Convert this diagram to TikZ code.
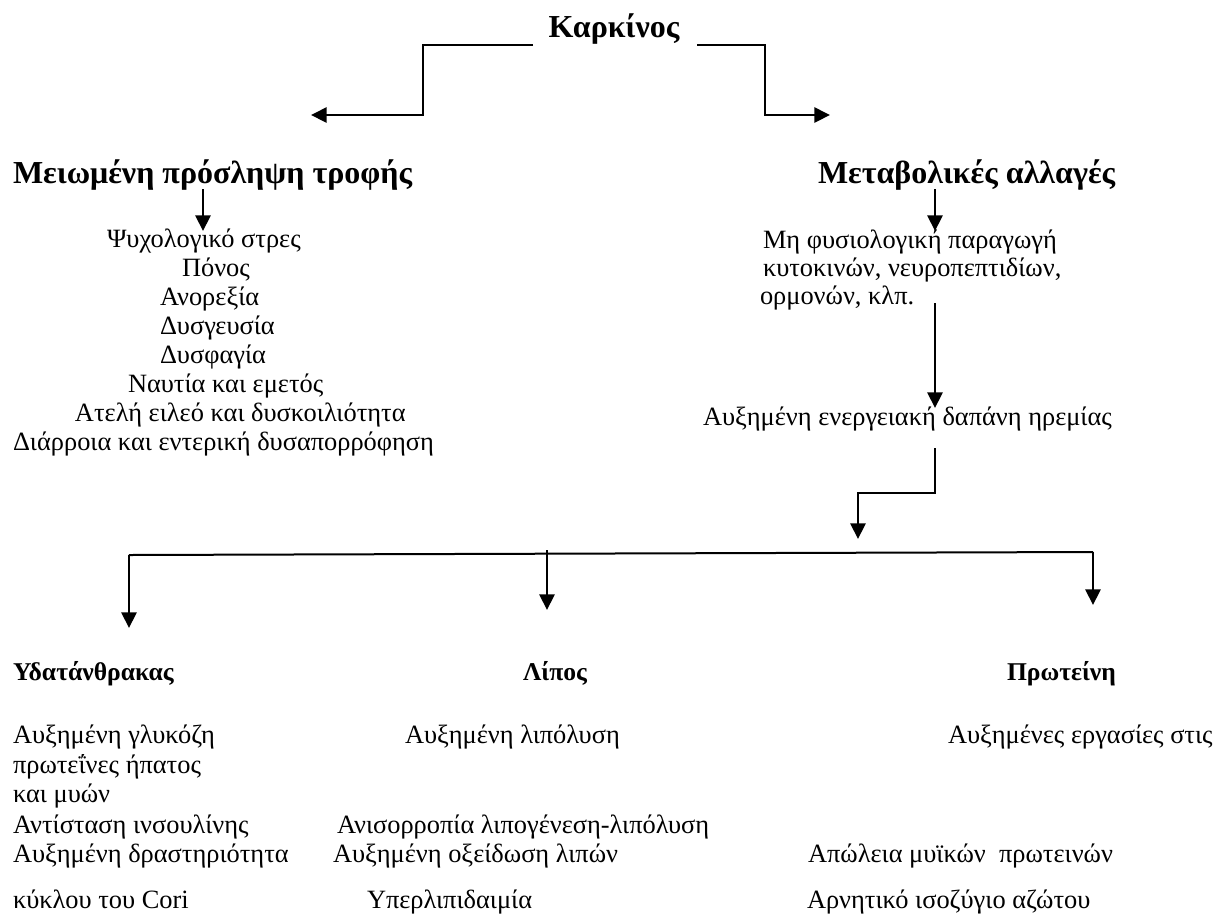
\documentclass[tikz,border=0pt]{standalone}
\usepackage{fontspec}
\setmainfont{Liberation Serif}
\usetikzlibrary{arrows.meta}
\begin{document}
\begin{tikzpicture}[x=0.5pt,y=-0.5pt,
  every node/.style={inner sep=0pt, outer sep=0pt, anchor=base west},
  body/.style={font=\fontsize{13.2pt}{15pt}\selectfont},
  head/.style={font=\fontsize{16pt}{19pt}\selectfont\bfseries},
  subhead/.style={font=\fontsize{12.8pt}{15pt}\selectfont\bfseries},
  conn/.style={line width=1.25pt},
  bus/.style={line width=1pt},
  arr/.style={conn, -{Triangle[length=7.8pt,width=7.5pt]}}]
\useasboundingbox (0,0) rectangle (1223,918);

% top
\node[head, anchor=base] (karkinos) at (614,37) {Καρκίνος};
\coordinate (kl) at (533,45);
\coordinate (kr) at (697,45);
\coordinate (tipL) at (311,115);
\coordinate (tipR) at (830,115);
\draw[arr] (kl) -- (423,45) -- (423,115) -- (tipL);
\draw[arr] (kr) -- (765,45) -- (765,115) -- (tipR);

% headings
\node[head] (meiom) at (13,183) {Μειωμένη πρόσληψη τροφής};
\node[head] (metab) at (818,183) {Μεταβολικές αλλαγές};

% left list
\node[body] (l1) at (107,247) {Ψυχολογικό στρες};
\node[body] (l2) at (182,276) {Πόνος};
\node[body] (l3) at (160,305) {Ανορεξία};
\node[body] (l4) at (160,334) {Δυσγευσία};
\node[body] (l5) at (160,363) {Δυσφαγία};
\node[body] (l6) at (128,392) {Ναυτία και εμετός};
\node[body] (l7) at (75,421) {Ατελή ειλεό και δυσκοιλιότητα};
\node[body] (l8) at (13,450) {Διάρροια και εντερική δυσαπορρόφηση};

\coordinate (a1s) at (203,189);
\coordinate (a1e) at (203,231);
\draw[arr] (a1s) -- (a1e);

% right column
\node[body] (r1) at (763,248) {Μη φυσιολογική παραγωγή};
\node[body] (r2) at (763,276) {κυτοκινών, νευροπεπτιδίων,};
\node[body] (r3) at (760,304) {ορμονών, κλπ.};
\node[body] (r4) at (703,425) {Αυξημένη ενεργειακή δαπάνη ηρεμίας};

\coordinate (a2s) at (935,189);
\coordinate (a2e) at (935,231);
\draw[arr] (a2s) -- (a2e);
\coordinate (a3s) at (935,303);
\coordinate (a3e) at (935,408);
\draw[arr] (a3s) -- (a3e);
\coordinate (a4s) at (935,448);
\coordinate (a4e) at (858,539);
\draw[arr] (a4s) -- (935,493) -- (858,493) -- (a4e);

% bus
\coordinate (busL) at (129,555);
\coordinate (busM) at (547,553);
\coordinate (busR) at (1093,552);
\draw[bus] (busL) -- (busR);
\coordinate (tC) at (129,628);
\coordinate (tF) at (547,610);
\coordinate (tP) at (1093,605);
\draw[arr] (busL) -- (tC);
\draw[arr] ([yshift=1.5pt]busM) -- (tF);
\draw[arr] (busR) -- (tP);

% bottom headings
\node[subhead] (carb) at (13,680) {Υδατάνθρακας};
\node[subhead] (fat) at (523,680) {Λίπος};
\node[subhead] (prot) at (1007,680) {Πρωτείνη};

% carbohydrates
\node[body] (c1) at (13,743) {Αυξημένη γλυκόζη};
\node[body] (c2) at (13,773) {πρωτεΐνες ήπατος};
\node[body] (c3) at (13,802) {και μυών};
\node[body] (c4) at (13,833) {Αντίσταση ινσουλίνης};
\node[body] (c5) at (13,862) {Αυξημένη δραστηριότητα};
\node[body] (c6) at (13,908) {κύκλου του Cori};

% fat
\node[body] (f1) at (405,743) {Αυξημένη λιπόλυση};
\node[body] (f2) at (337,833) {Ανισορροπία λιπογένεση-λιπόλυση};
\node[body] (f3) at (333,862) {Αυξημένη οξείδωση λιπών};
\node[body] (f4) at (367,908) {Υπερλιπιδαιμία};

% protein
\node[body] (p1) at (948,743) {Αυξημένες εργασίες στις};
\node[body] (p2) at (808,862) {Απώλεια μυϊκών\ \ πρωτεινών};
\node[body] (p3) at (807,908) {Αρνητικό ισοζύγιο αζώτου};
\end{tikzpicture}
\end{document}
